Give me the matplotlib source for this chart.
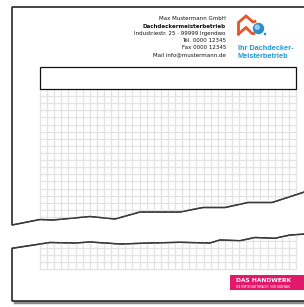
import matplotlib.pyplot as plt
from matplotlib.patches import Polygon, Rectangle, Circle
import numpy as np

# page geometry (pixels)
page_left = 12
page_top = 7
page_bottom = 301
right_edge = 306

# torn edge of upper sheet (x, y)
tear_top_x = [12, 40, 53, 90, 115, 140, 180, 203, 225, 248, 272, 306]
tear_top_y = [225, 219.5, 220, 216.5, 219, 212, 212, 207.5, 207.5, 202.5, 202.5, 191.5]

# torn edge of lower sheet (x, y)
tear_bot_x = [12, 50, 75, 90, 120, 150, 180, 210, 220, 240, 255, 275, 290, 306]
tear_bot_y = [248.3, 242.5, 243, 242, 244, 243, 242.3, 243, 240, 240.7, 237.5, 238.3, 235, 234]

# header text lines
addr_lines = ["Max Mustermann GmbH", "Dachdeckermeisterbetrieb",
              "Industriestr. 25 · 99999 Irgendwo", "Tel. 0000 12345",
              "Fax 0000 12345", "Mail info@mustermann.de"]
addr_y = [18.5, 26, 33, 40, 47.5, 55]
addr_bold = [False, True, False, False, False, False]

logo_lines = ["Ihr Dachdecker-", "Meisterbetrieb"]
logo_y = [48, 56]

# grid
grid_x0, grid_x1 = 40, 296
grid_cells_x = 36
grid_top = 89
cell = 7.11
lower_grid_bottom = 269

fig = plt.figure(figsize=(3.04, 3.07), dpi=100)
ax = fig.add_axes([0, 0, 1, 1])
ax.set_xlim(0, 304)
ax.set_ylim(307, 0)
ax.axis("off")

edge_col = "#383838"
grid_col = "#e3e3e3"

# lower sheet shadow
for k, a in enumerate([0.10, 0.16, 0.28]):
    off = 2 - k * 0.7
    ax.add_patch(Rectangle((page_left + 3 - off, page_bottom - 2), 300, 4 + off,
                           color="#000000", alpha=a, lw=0, zorder=1))

# upper sheet
upper_pts = [(page_left, page_top), (right_edge, page_top)] + \
    list(zip(tear_top_x[::-1], tear_top_y[::-1]))
upper = Polygon(upper_pts, closed=True, facecolor="white", edgecolor=edge_col,
                lw=1.0, zorder=2)
ax.add_patch(upper)

# lower sheet
lower_pts = list(zip(tear_bot_x, tear_bot_y)) + \
    [(right_edge, page_bottom), (page_left, page_bottom)]
lower = Polygon(lower_pts, closed=True, facecolor="white", edgecolor=edge_col,
                lw=1.0, zorder=2)
ax.add_patch(lower)

# grid on upper sheet
xs = np.linspace(grid_x0, grid_x1, grid_cells_x + 1)
ys_up = np.arange(grid_top, 230, cell)
for x in xs:
    l, = ax.plot([x, x], [grid_top, 230], color=grid_col, lw=0.95, zorder=3)
    l.set_clip_path(upper)
for y in ys_up:
    l, = ax.plot([grid_x0, grid_x1], [y, y], color=grid_col, lw=0.95, zorder=3)
    l.set_clip_path(upper)

# grid on lower sheet
ys_low = np.arange(lower_grid_bottom, 230, -cell)
for x in xs:
    l, = ax.plot([x, x], [230, lower_grid_bottom], color=grid_col, lw=0.95, zorder=3)
    l.set_clip_path(lower)
for y in ys_low:
    l, = ax.plot([grid_x0, grid_x1], [y, y], color=grid_col, lw=0.95, zorder=3)
    l.set_clip_path(lower)

# redraw sheet outlines above grid
ax.add_patch(Polygon(upper_pts, closed=True, fill=False, edgecolor=edge_col, lw=1.0, zorder=4))
ax.add_patch(Polygon(lower_pts, closed=True, fill=False, edgecolor=edge_col, lw=1.0, zorder=4))

# subject box
ax.add_patch(Rectangle((40, 67), 256, 22, facecolor="white", edgecolor="#111111",
                       lw=0.9, zorder=5))

# address block
for txt, y, b in zip(addr_lines, addr_y, addr_bold):
    ax.text(226, y, txt, ha="right", va="center", fontsize=4.0,
            fontweight="bold" if b else "normal", color="#111111",
            family="DejaVu Sans", zorder=6)

# roofer logo
roof = [(238.5, 34), (238.5, 22.5), (246, 16), (253, 22), (255, 21.5)]
ax.plot([p[0] for p in roof], [p[1] for p in roof], color="#e8552b", lw=2.0,
        solid_joinstyle="miter", zorder=6)
bottom = [(238.5, 34), (246, 27.5), (252, 33.5), (254, 33.5)]
ax.plot([p[0] for p in bottom], [p[1] for p in bottom], color="#e8552b", lw=2.0,
        solid_joinstyle="miter", zorder=6)
ax.add_patch(Circle((258.5, 28.5), 5.0, color="#2a8fd0", zorder=6))
ax.add_patch(Circle((257.2, 27.2), 2.0, color="white", alpha=0.45, zorder=7))
ax.add_patch(Circle((265, 34), 0.6, color="#2a8fd0", zorder=7))
for txt, y in zip(logo_lines, logo_y):
    ax.text(238, y, txt, ha="left", va="center", fontsize=5.3, color="#1e9ad6",
            family="Liberation Sans", fontweight="bold", zorder=6)

# Das Handwerk badge
ax.add_patch(Rectangle((230, 275), 76, 15, color="#e2186b", lw=0, zorder=6))
ax.text(236, 281, "DAS HANDWERK", ha="left", va="center", fontsize=4.3,
        fontweight="bold", color="white", family="DejaVu Sans", zorder=7)
ax.text(236, 287, "DIE WIRTSCHAFTSMACHT. VON NEBENAN.", ha="left", va="center",
        fontsize=1.9, color="white", family="DejaVu Sans", zorder=7)

fig.savefig("out.png", dpi=100)
